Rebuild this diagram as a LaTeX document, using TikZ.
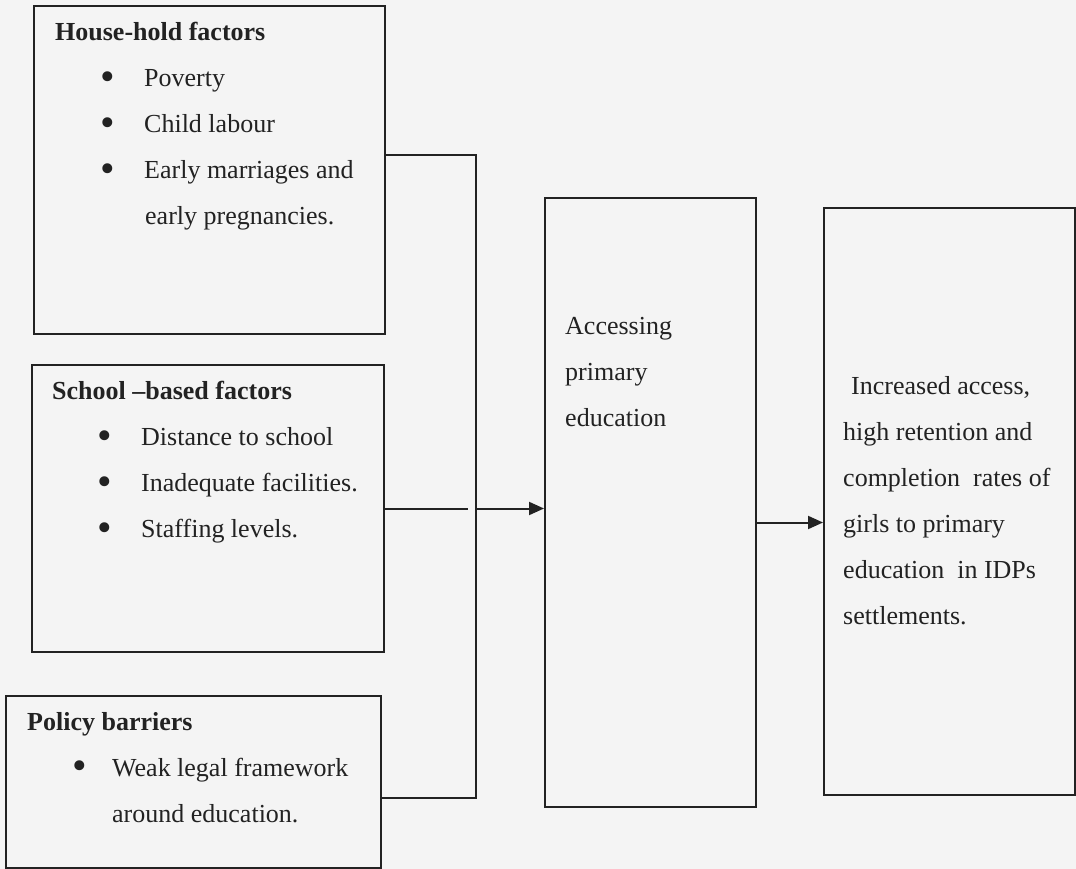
\documentclass[tikz,border=0pt]{standalone}
\usepackage{fontspec}
\usepackage{graphicx}
\setmainfont{Liberation Serif}
\usetikzlibrary{arrows.meta}
\definecolor{paper}{HTML}{F4F4F4}
\definecolor{ink}{HTML}{222222}
\newcommand{\blt}[2][44pt]{\hspace*{45pt}\makebox[#1][l]{\raisebox{-3.5pt}{\scalebox{1.6}{\textbullet}}}#2}

\begin{document}
\begin{tikzpicture}[x=1pt,y=-1pt,
  box/.style={draw=ink,line width=2pt,anchor=north west,inner sep=0pt},
  txt/.style={anchor=north west,align=left,inner sep=0pt,text=ink,font=\fontsize{26}{46}\selectfont},
  arr/.style={draw=ink,line width=2pt,-{Triangle[length=15pt,width=13pt]}}]
\fill[paper] (0,0) rectangle (1076,869);
\useasboundingbox (0,0) rectangle (1076,869);
% boxes
\node[box,minimum width=351pt,minimum height=328pt] (house) at (33,5) {};
\node[box,minimum width=352pt,minimum height=287pt] (school) at (31,364) {};
\node[box,minimum width=375pt,minimum height=172pt] (policy) at (5,695) {};
\node[box,minimum width=211pt,minimum height=609pt] (access) at (544,197) {};
\node[box,minimum width=251pt,minimum height=587pt] (result) at (823,207) {};
% texts
\node[txt] (houseTxt) at (55,22) {\textbf{House-hold factors}\\
  \blt{Poverty}\\ \blt{Child labour}\\ \blt{Early marriages and}\\
  \hspace*{90pt}early pregnancies.};
\node[txt] (schoolTxt) at (52,381) {\textbf{School –based factors}\\
  \blt{Distance to school}\\ \blt{Inadequate facilities.}\\ \blt{Staffing levels.}};
\node[txt] (policyTxt) at (27,712) {\textbf{Policy barriers}\\
  \blt[40pt]{Weak legal framework}\\ \hspace*{85pt}around education.};
\node[txt] (accessTxt) at (565,317) {Accessing\\ primary\\ education};
\node[txt] (resultTxt) at (843,376) {\hspace*{8pt}Increased access,\\ high retention and\\
  completion~ rates of\\ girls to primary\\ education~ in IDPs\\ settlements.};
% connectors
\coordinate (jtop) at (476,155);
\coordinate (jbot) at (476,798);
\draw[ink,line width=2pt] (house.east |- jtop) -- (jtop) -- (jbot) -- (policy.east |- jbot);
\draw[ink,line width=2pt] (school.east) -- ([xshift=-8pt]school.east -| jtop);
\draw[arr] (school.east -| jtop) -- (school.east -| access.west);
\draw[arr] ([yshift=-20pt]access.east) -- ([yshift=-20pt]access.east -| result.west);
\end{tikzpicture}
\end{document}
